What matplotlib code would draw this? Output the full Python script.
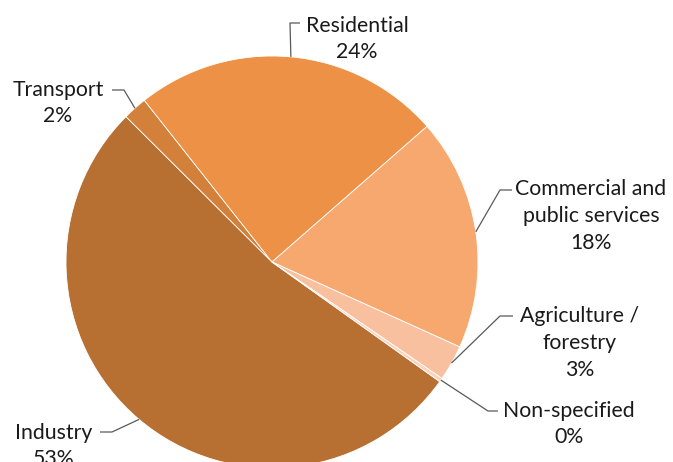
import numpy as np
import matplotlib.pyplot as plt

plt.rcParams['font.family'] = ['Lato', 'DejaVu Sans']

sectors = ['Industry', 'Transport', 'Residential',
           'Commercial and\npublic services', 'Agriculture /\nforestry',
           'Non-specified']
shares = [52.6, 1.9, 24.2, 18.2, 2.8, 0.3]
colors = ['#B76F32', '#D2803A', '#EC9145', '#F7A86E', '#F9C09F', '#FBD3BC']

# pixel layout of the canvas (origin top-left)
W, H = 673, 462
CX, CY, R = 272, 262, 206


def px(x, y):
    return ((x - CX) / R, (CY - y) / R)


fig = plt.figure(figsize=(W / 100, H / 100), dpi=100)
ax = fig.add_axes([0, 0, 1, 1])

wedges, _ = ax.pie(shares, colors=colors, startangle=-35.5, counterclock=False,
                   radius=1, center=(0, 0), normalize=True,
                   wedgeprops=dict(edgecolor='white', linewidth=0.6))

# pie() resets the limits, so set them afterwards
ax.set_xlim(-CX / R, (W - CX) / R)
ax.set_ylim(-(H - CY) / R, CY / R)
ax.set_aspect('equal')
ax.set_axis_off()

# elbow point, end of horizontal stub, text centre (all in pixels)
layout = [
    ((112, 432), (100, 432), (54, 446)),
    ((124, 90), (112, 90), (58, 103)),
    ((290, 23), (300, 23), (357, 39)),
    ((500, 190), (512, 190), (591, 216)),
    ((500, 316), (513, 316), (580, 343)),
    ((488, 411), (498, 411), (569, 424)),
]

for w, name, val, (elbow, stub, tpos) in zip(wedges, sectors, shares, layout):
    mid = np.deg2rad((w.theta1 + w.theta2) / 2)
    start = (np.cos(mid), np.sin(mid))
    e = px(*elbow)
    s = px(*stub)
    ax.plot([start[0], e[0], s[0]], [start[1], e[1], s[1]],
            color='#595959', lw=0.9, solid_capstyle='butt')
    ax.text(*px(*tpos), f'{name}\n{val:.0f}%', ha='center', va='center',
            fontsize=15.3, color='#1a1a1a', linespacing=1.42)

fig.savefig('out.png', dpi=100)
